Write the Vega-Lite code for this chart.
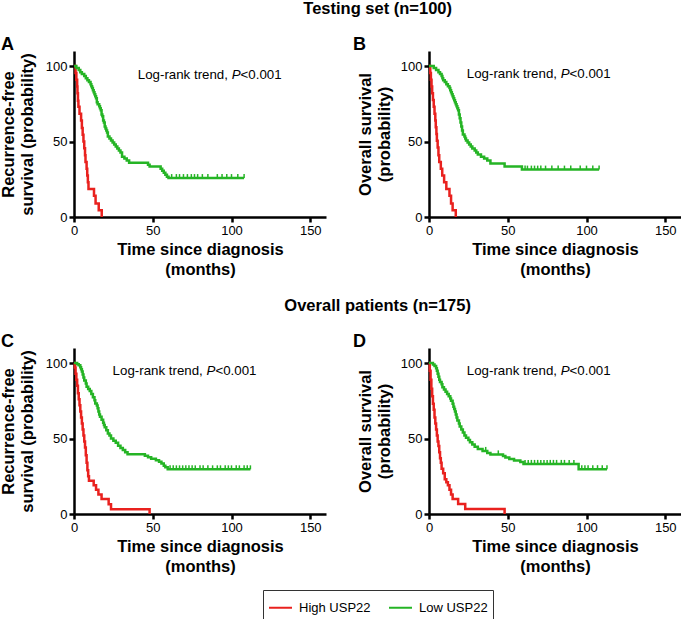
{
  "$schema": "https://vega.github.io/schema/vega-lite/v6.json",
  "padding": {"left": 0, "top": 0, "right": 0, "bottom": 0},
  "background": "white",
  "config": {
    "view": {"stroke": null},
    "font": "Liberation Sans",
    "axis": {"domainColor": "black", "domainWidth": 2.5, "tickColor": "black", "tickWidth": 2.5, "tickSize": 5, "labelFont": "Liberation Sans", "labelFontSize": 13, "labelColor": "black", "labelPadding": 2, "labelFlush": false, "titleFont": "Liberation Sans", "titleFontSize": 16.5, "titleFontWeight": "bold", "titleColor": "black", "titleLineHeight": 19, "grid": false},
    "title": {"font": "Liberation Sans", "color": "black", "fontWeight": "bold"}
  },
  "datasets": {
    "curves": [
      {"panel":"A","group":"High USP22","t":0,"s":100},{"panel":"A","group":"High USP22","t":1,"s":95.5},{"panel":"A","group":"High USP22","t":1.5,"s":91},{"panel":"A","group":"High USP22","t":2,"s":86.5},{"panel":"A","group":"High USP22","t":2.2,"s":82},{"panel":"A","group":"High USP22","t":2.5,"s":77},{"panel":"A","group":"High USP22","t":2.8,"s":73},{"panel":"A","group":"High USP22","t":3.5,"s":68.5},{"panel":"A","group":"High USP22","t":4.5,"s":64},{"panel":"A","group":"High USP22","t":5,"s":59},{"panel":"A","group":"High USP22","t":5.5,"s":54.5},{"panel":"A","group":"High USP22","t":6,"s":50},{"panel":"A","group":"High USP22","t":6.5,"s":45.5},{"panel":"A","group":"High USP22","t":7,"s":41},{"panel":"A","group":"High USP22","t":7.3,"s":36.5},{"panel":"A","group":"High USP22","t":8,"s":32},{"panel":"A","group":"High USP22","t":8.4,"s":27.5},{"panel":"A","group":"High USP22","t":8.8,"s":23},{"panel":"A","group":"High USP22","t":9.2,"s":18.5},{"panel":"A","group":"High USP22","t":12.7,"s":14},{"panel":"A","group":"High USP22","t":13.7,"s":9},{"panel":"A","group":"High USP22","t":15.7,"s":4.5},{"panel":"A","group":"High USP22","t":17.6,"s":0},
      {"panel":"A","group":"Low USP22","t":0,"s":100},{"panel":"A","group":"Low USP22","t":1.5,"s":98.7},{"panel":"A","group":"Low USP22","t":3,"s":97.4},{"panel":"A","group":"Low USP22","t":4,"s":96},{"panel":"A","group":"Low USP22","t":5,"s":94.7},{"panel":"A","group":"Low USP22","t":6.5,"s":93.4},{"panel":"A","group":"Low USP22","t":7.5,"s":92},{"panel":"A","group":"Low USP22","t":8.5,"s":90.7},{"panel":"A","group":"Low USP22","t":9.5,"s":89.4},{"panel":"A","group":"Low USP22","t":10.5,"s":88},{"panel":"A","group":"Low USP22","t":11,"s":86.7},{"panel":"A","group":"Low USP22","t":11.5,"s":85.4},{"panel":"A","group":"Low USP22","t":12,"s":84},{"panel":"A","group":"Low USP22","t":12.5,"s":82.7},{"panel":"A","group":"Low USP22","t":13,"s":81.4},{"panel":"A","group":"Low USP22","t":13.5,"s":80},{"panel":"A","group":"Low USP22","t":14,"s":78.7},{"panel":"A","group":"Low USP22","t":14.5,"s":76},{"panel":"A","group":"Low USP22","t":15,"s":74.7},{"panel":"A","group":"Low USP22","t":16,"s":73.4},{"panel":"A","group":"Low USP22","t":16.5,"s":72},{"panel":"A","group":"Low USP22","t":17,"s":70.7},{"panel":"A","group":"Low USP22","t":17.5,"s":68},{"panel":"A","group":"Low USP22","t":18,"s":66.7},{"panel":"A","group":"Low USP22","t":18.5,"s":64},{"panel":"A","group":"Low USP22","t":19,"s":62.7},{"panel":"A","group":"Low USP22","t":19.5,"s":60},{"panel":"A","group":"Low USP22","t":20,"s":58.7},{"panel":"A","group":"Low USP22","t":20.5,"s":57.4},{"panel":"A","group":"Low USP22","t":21,"s":56},{"panel":"A","group":"Low USP22","t":21.5,"s":53.4},{"panel":"A","group":"Low USP22","t":22.5,"s":52},{"panel":"A","group":"Low USP22","t":23.5,"s":50.7},{"panel":"A","group":"Low USP22","t":24.5,"s":49.4},{"panel":"A","group":"Low USP22","t":25.5,"s":48},{"panel":"A","group":"Low USP22","t":26.5,"s":46.7},{"panel":"A","group":"Low USP22","t":27.5,"s":45.4},{"panel":"A","group":"Low USP22","t":28.5,"s":44},{"panel":"A","group":"Low USP22","t":29.5,"s":42.7},{"panel":"A","group":"Low USP22","t":30.5,"s":40},{"panel":"A","group":"Low USP22","t":32,"s":38.7},{"panel":"A","group":"Low USP22","t":33.5,"s":37.4},{"panel":"A","group":"Low USP22","t":35,"s":36},{"panel":"A","group":"Low USP22","t":47,"s":34.7},{"panel":"A","group":"Low USP22","t":48,"s":33.4},{"panel":"A","group":"Low USP22","t":55,"s":32},{"panel":"A","group":"Low USP22","t":56,"s":30.7},{"panel":"A","group":"Low USP22","t":57,"s":29.4},{"panel":"A","group":"Low USP22","t":58,"s":28},{"panel":"A","group":"Low USP22","t":59,"s":26.7},{"panel":"A","group":"Low USP22","t":60,"s":25.8},{"panel":"A","group":"Low USP22","t":108,"s":25.8},
      {"panel":"B","group":"High USP22","t":0,"s":100},{"panel":"B","group":"High USP22","t":0.8,"s":95.5},{"panel":"B","group":"High USP22","t":1.2,"s":91},{"panel":"B","group":"High USP22","t":1.6,"s":86.5},{"panel":"B","group":"High USP22","t":2,"s":82},{"panel":"B","group":"High USP22","t":2.5,"s":77.5},{"panel":"B","group":"High USP22","t":3,"s":73},{"panel":"B","group":"High USP22","t":3.5,"s":68.5},{"panel":"B","group":"High USP22","t":4,"s":64},{"panel":"B","group":"High USP22","t":4.3,"s":59.5},{"panel":"B","group":"High USP22","t":4.7,"s":55},{"panel":"B","group":"High USP22","t":5,"s":50.5},{"panel":"B","group":"High USP22","t":5.5,"s":46},{"panel":"B","group":"High USP22","t":6,"s":41},{"panel":"B","group":"High USP22","t":6.5,"s":36.5},{"panel":"B","group":"High USP22","t":7.5,"s":32},{"panel":"B","group":"High USP22","t":8.4,"s":27.5},{"panel":"B","group":"High USP22","t":9.6,"s":23},{"panel":"B","group":"High USP22","t":11,"s":18.5},{"panel":"B","group":"High USP22","t":13,"s":14},{"panel":"B","group":"High USP22","t":14,"s":9},{"panel":"B","group":"High USP22","t":15,"s":4.5},{"panel":"B","group":"High USP22","t":17,"s":0},
      {"panel":"B","group":"Low USP22","t":0,"s":100},{"panel":"B","group":"Low USP22","t":3,"s":98.7},{"panel":"B","group":"Low USP22","t":4.5,"s":97.4},{"panel":"B","group":"Low USP22","t":6,"s":96},{"panel":"B","group":"Low USP22","t":7,"s":94.7},{"panel":"B","group":"Low USP22","t":8,"s":93.4},{"panel":"B","group":"Low USP22","t":8.5,"s":92},{"panel":"B","group":"Low USP22","t":9,"s":90.7},{"panel":"B","group":"Low USP22","t":10,"s":89.4},{"panel":"B","group":"Low USP22","t":11,"s":88},{"panel":"B","group":"Low USP22","t":12,"s":86.7},{"panel":"B","group":"Low USP22","t":13,"s":85.4},{"panel":"B","group":"Low USP22","t":13.5,"s":84},{"panel":"B","group":"Low USP22","t":14,"s":82.7},{"panel":"B","group":"Low USP22","t":14.5,"s":81.4},{"panel":"B","group":"Low USP22","t":15,"s":80},{"panel":"B","group":"Low USP22","t":15.5,"s":78.7},{"panel":"B","group":"Low USP22","t":16,"s":77.4},{"panel":"B","group":"Low USP22","t":16.5,"s":76},{"panel":"B","group":"Low USP22","t":17,"s":74.7},{"panel":"B","group":"Low USP22","t":17.5,"s":73.4},{"panel":"B","group":"Low USP22","t":18,"s":72},{"panel":"B","group":"Low USP22","t":18.5,"s":70.7},{"panel":"B","group":"Low USP22","t":19,"s":68},{"panel":"B","group":"Low USP22","t":19.5,"s":65.4},{"panel":"B","group":"Low USP22","t":20,"s":62.7},{"panel":"B","group":"Low USP22","t":20.5,"s":60},{"panel":"B","group":"Low USP22","t":21,"s":57.4},{"panel":"B","group":"Low USP22","t":21.5,"s":54.7},{"panel":"B","group":"Low USP22","t":22.5,"s":53.4},{"panel":"B","group":"Low USP22","t":23,"s":52},{"panel":"B","group":"Low USP22","t":23.5,"s":50.7},{"panel":"B","group":"Low USP22","t":24.5,"s":49.4},{"panel":"B","group":"Low USP22","t":25.5,"s":48},{"panel":"B","group":"Low USP22","t":26.5,"s":46.7},{"panel":"B","group":"Low USP22","t":27.5,"s":45.4},{"panel":"B","group":"Low USP22","t":29,"s":44},{"panel":"B","group":"Low USP22","t":30,"s":42.7},{"panel":"B","group":"Low USP22","t":31,"s":41.4},{"panel":"B","group":"Low USP22","t":33,"s":40},{"panel":"B","group":"Low USP22","t":35,"s":38.7},{"panel":"B","group":"Low USP22","t":37,"s":37.4},{"panel":"B","group":"Low USP22","t":39,"s":35.5},{"panel":"B","group":"Low USP22","t":48,"s":33.4},{"panel":"B","group":"Low USP22","t":59,"s":31.4},{"panel":"B","group":"Low USP22","t":108,"s":31.4},
      {"panel":"C","group":"High USP22","t":0,"s":100},{"panel":"C","group":"High USP22","t":0.5,"s":97},{"panel":"C","group":"High USP22","t":1,"s":93},{"panel":"C","group":"High USP22","t":1.5,"s":89},{"panel":"C","group":"High USP22","t":2,"s":85},{"panel":"C","group":"High USP22","t":2.5,"s":80},{"panel":"C","group":"High USP22","t":3,"s":76},{"panel":"C","group":"High USP22","t":3.5,"s":72},{"panel":"C","group":"High USP22","t":4,"s":68},{"panel":"C","group":"High USP22","t":4.5,"s":64},{"panel":"C","group":"High USP22","t":5,"s":60},{"panel":"C","group":"High USP22","t":5.5,"s":56},{"panel":"C","group":"High USP22","t":6,"s":52},{"panel":"C","group":"High USP22","t":6.5,"s":48},{"panel":"C","group":"High USP22","t":7,"s":44},{"panel":"C","group":"High USP22","t":7.5,"s":39},{"panel":"C","group":"High USP22","t":8,"s":34},{"panel":"C","group":"High USP22","t":8.5,"s":29},{"panel":"C","group":"High USP22","t":9,"s":25},{"panel":"C","group":"High USP22","t":9.5,"s":22},{"panel":"C","group":"High USP22","t":12.5,"s":19},{"panel":"C","group":"High USP22","t":14,"s":16},{"panel":"C","group":"High USP22","t":15.5,"s":13},{"panel":"C","group":"High USP22","t":17.5,"s":10},{"panel":"C","group":"High USP22","t":22,"s":6.5},{"panel":"C","group":"High USP22","t":23.5,"s":3.2},{"panel":"C","group":"High USP22","t":48,"s":0},
      {"panel":"C","group":"Low USP22","t":0,"s":100},{"panel":"C","group":"Low USP22","t":2,"s":99.3},{"panel":"C","group":"Low USP22","t":3,"s":98.6},{"panel":"C","group":"Low USP22","t":4,"s":97.3},{"panel":"C","group":"Low USP22","t":4.5,"s":95.9},{"panel":"C","group":"Low USP22","t":5,"s":94.5},{"panel":"C","group":"Low USP22","t":5.5,"s":92.5},{"panel":"C","group":"Low USP22","t":6,"s":90.4},{"panel":"C","group":"Low USP22","t":6.5,"s":88.4},{"panel":"C","group":"Low USP22","t":7.5,"s":86.4},{"panel":"C","group":"Low USP22","t":8,"s":84.3},{"panel":"C","group":"Low USP22","t":9,"s":82.9},{"panel":"C","group":"Low USP22","t":10,"s":81.5},{"panel":"C","group":"Low USP22","t":11,"s":79.5},{"panel":"C","group":"Low USP22","t":12,"s":77.4},{"panel":"C","group":"Low USP22","t":13,"s":75.3},{"panel":"C","group":"Low USP22","t":13.5,"s":73.3},{"panel":"C","group":"Low USP22","t":14.5,"s":71.9},{"panel":"C","group":"Low USP22","t":15,"s":70},{"panel":"C","group":"Low USP22","t":15.5,"s":68},{"panel":"C","group":"Low USP22","t":16,"s":66},{"panel":"C","group":"Low USP22","t":16.5,"s":64.5},{"panel":"C","group":"Low USP22","t":17.5,"s":62.5},{"panel":"C","group":"Low USP22","t":18.5,"s":60.5},{"panel":"C","group":"Low USP22","t":19,"s":59},{"panel":"C","group":"Low USP22","t":19.5,"s":57.5},{"panel":"C","group":"Low USP22","t":20.5,"s":55.5},{"panel":"C","group":"Low USP22","t":21.5,"s":53.4},{"panel":"C","group":"Low USP22","t":22.5,"s":52},{"panel":"C","group":"Low USP22","t":23.5,"s":50},{"panel":"C","group":"Low USP22","t":25,"s":48.6},{"panel":"C","group":"Low USP22","t":26.5,"s":47.2},{"panel":"C","group":"Low USP22","t":28,"s":45.2},{"panel":"C","group":"Low USP22","t":29.5,"s":43.8},{"panel":"C","group":"Low USP22","t":31,"s":42.4},{"panel":"C","group":"Low USP22","t":32.5,"s":41},{"panel":"C","group":"Low USP22","t":34,"s":39.6},{"panel":"C","group":"Low USP22","t":45,"s":38.6},{"panel":"C","group":"Low USP22","t":47,"s":37.6},{"panel":"C","group":"Low USP22","t":49,"s":36.6},{"panel":"C","group":"Low USP22","t":52,"s":35.6},{"panel":"C","group":"Low USP22","t":54,"s":34.6},{"panel":"C","group":"Low USP22","t":55.5,"s":33.5},{"panel":"C","group":"Low USP22","t":57,"s":32},{"panel":"C","group":"Low USP22","t":58,"s":31},{"panel":"C","group":"Low USP22","t":59.5,"s":29.6},{"panel":"C","group":"Low USP22","t":112,"s":29.6},
      {"panel":"D","group":"High USP22","t":0,"s":100},{"panel":"D","group":"High USP22","t":0.5,"s":95},{"panel":"D","group":"High USP22","t":1,"s":89},{"panel":"D","group":"High USP22","t":1.5,"s":83},{"panel":"D","group":"High USP22","t":2,"s":78},{"panel":"D","group":"High USP22","t":2.5,"s":73},{"panel":"D","group":"High USP22","t":3,"s":69},{"panel":"D","group":"High USP22","t":3.5,"s":64},{"panel":"D","group":"High USP22","t":4,"s":60},{"panel":"D","group":"High USP22","t":4.5,"s":56},{"panel":"D","group":"High USP22","t":5,"s":52},{"panel":"D","group":"High USP22","t":5.5,"s":48},{"panel":"D","group":"High USP22","t":6,"s":45},{"panel":"D","group":"High USP22","t":6.5,"s":41},{"panel":"D","group":"High USP22","t":7,"s":37},{"panel":"D","group":"High USP22","t":7.5,"s":34},{"panel":"D","group":"High USP22","t":8,"s":30},{"panel":"D","group":"High USP22","t":9,"s":27},{"panel":"D","group":"High USP22","t":10,"s":23},{"panel":"D","group":"High USP22","t":11,"s":21},{"panel":"D","group":"High USP22","t":12,"s":19},{"panel":"D","group":"High USP22","t":13,"s":16},{"panel":"D","group":"High USP22","t":14,"s":13},{"panel":"D","group":"High USP22","t":15,"s":10},{"panel":"D","group":"High USP22","t":18.5,"s":6.6},{"panel":"D","group":"High USP22","t":23,"s":3.3},{"panel":"D","group":"High USP22","t":48,"s":0},
      {"panel":"D","group":"Low USP22","t":0,"s":100},{"panel":"D","group":"Low USP22","t":2.5,"s":99},{"panel":"D","group":"Low USP22","t":3.5,"s":98},{"panel":"D","group":"Low USP22","t":4.5,"s":96.5},{"panel":"D","group":"Low USP22","t":5,"s":95},{"panel":"D","group":"Low USP22","t":5.5,"s":93},{"panel":"D","group":"Low USP22","t":6,"s":91},{"panel":"D","group":"Low USP22","t":6.5,"s":89},{"panel":"D","group":"Low USP22","t":7,"s":87.5},{"panel":"D","group":"Low USP22","t":8,"s":86},{"panel":"D","group":"Low USP22","t":8.5,"s":84},{"panel":"D","group":"Low USP22","t":9.5,"s":82.5},{"panel":"D","group":"Low USP22","t":10.5,"s":81},{"panel":"D","group":"Low USP22","t":11.5,"s":79.5},{"panel":"D","group":"Low USP22","t":12.5,"s":78},{"panel":"D","group":"Low USP22","t":13.5,"s":76.5},{"panel":"D","group":"Low USP22","t":14,"s":75},{"panel":"D","group":"Low USP22","t":15,"s":73},{"panel":"D","group":"Low USP22","t":15.5,"s":71},{"panel":"D","group":"Low USP22","t":16,"s":69.5},{"panel":"D","group":"Low USP22","t":16.5,"s":68},{"panel":"D","group":"Low USP22","t":17,"s":66},{"panel":"D","group":"Low USP22","t":17.5,"s":64},{"panel":"D","group":"Low USP22","t":18,"s":62},{"panel":"D","group":"Low USP22","t":19,"s":60},{"panel":"D","group":"Low USP22","t":19.5,"s":58},{"panel":"D","group":"Low USP22","t":20.5,"s":56},{"panel":"D","group":"Low USP22","t":21.5,"s":54},{"panel":"D","group":"Low USP22","t":22.5,"s":52},{"panel":"D","group":"Low USP22","t":23.5,"s":50.5},{"panel":"D","group":"Low USP22","t":25,"s":49},{"panel":"D","group":"Low USP22","t":26,"s":47.5},{"panel":"D","group":"Low USP22","t":27.5,"s":46},{"panel":"D","group":"Low USP22","t":29,"s":44.5},{"panel":"D","group":"Low USP22","t":31,"s":43},{"panel":"D","group":"Low USP22","t":34,"s":41.8},{"panel":"D","group":"Low USP22","t":37,"s":40.5},{"panel":"D","group":"Low USP22","t":39,"s":39.5},{"panel":"D","group":"Low USP22","t":47,"s":38.5},{"panel":"D","group":"Low USP22","t":48.5,"s":37.5},{"panel":"D","group":"Low USP22","t":51,"s":36.5},{"panel":"D","group":"Low USP22","t":54,"s":35.5},{"panel":"D","group":"Low USP22","t":58,"s":34.5},{"panel":"D","group":"Low USP22","t":60,"s":33.2},{"panel":"D","group":"Low USP22","t":95,"s":29.7},{"panel":"D","group":"Low USP22","t":113,"s":29.7}
    ],
    "censor": [
      {"panel":"A","t":62,"s":25.8},{"panel":"A","t":65,"s":25.8},{"panel":"A","t":67,"s":25.8},{"panel":"A","t":69.5,"s":25.8},{"panel":"A","t":72,"s":25.8},{"panel":"A","t":74.5,"s":25.8},{"panel":"A","t":76.5,"s":25.8},{"panel":"A","t":78.5,"s":25.8},{"panel":"A","t":81.5,"s":25.8},{"panel":"A","t":85,"s":25.8},{"panel":"A","t":91,"s":25.8},{"panel":"A","t":94,"s":25.8},{"panel":"A","t":97,"s":25.8},{"panel":"A","t":100,"s":25.8},{"panel":"A","t":104,"s":25.8},{"panel":"A","t":108,"s":25.8},
      {"panel":"B","t":61,"s":31.4},{"panel":"B","t":62.5,"s":31.4},{"panel":"B","t":65,"s":31.4},{"panel":"B","t":67,"s":31.4},{"panel":"B","t":69,"s":31.4},{"panel":"B","t":71,"s":31.4},{"panel":"B","t":74,"s":31.4},{"panel":"B","t":78,"s":31.4},{"panel":"B","t":82,"s":31.4},{"panel":"B","t":86,"s":31.4},{"panel":"B","t":90,"s":31.4},{"panel":"B","t":96,"s":31.4},{"panel":"B","t":100,"s":31.4},{"panel":"B","t":104,"s":31.4},{"panel":"B","t":108,"s":31.4},
      {"panel":"C","t":61,"s":29.6},{"panel":"C","t":63,"s":29.6},{"panel":"C","t":65,"s":29.6},{"panel":"C","t":67,"s":29.6},{"panel":"C","t":69,"s":29.6},{"panel":"C","t":71,"s":29.6},{"panel":"C","t":73,"s":29.6},{"panel":"C","t":75,"s":29.6},{"panel":"C","t":77,"s":29.6},{"panel":"C","t":80,"s":29.6},{"panel":"C","t":82,"s":29.6},{"panel":"C","t":85,"s":29.6},{"panel":"C","t":88,"s":29.6},{"panel":"C","t":91,"s":29.6},{"panel":"C","t":93,"s":29.6},{"panel":"C","t":96,"s":29.6},{"panel":"C","t":98,"s":29.6},{"panel":"C","t":100,"s":29.6},{"panel":"C","t":103,"s":29.6},{"panel":"C","t":105,"s":29.6},{"panel":"C","t":108,"s":29.6},{"panel":"C","t":110,"s":29.6},{"panel":"C","t":112,"s":29.6},
      {"panel":"D","t":36,"s":41.8},{"panel":"D","t":44,"s":39.5},{"panel":"D","t":61,"s":33.2},{"panel":"D","t":63,"s":33.2},{"panel":"D","t":65,"s":33.2},{"panel":"D","t":67,"s":33.2},{"panel":"D","t":69,"s":33.2},{"panel":"D","t":71,"s":33.2},{"panel":"D","t":73,"s":33.2},{"panel":"D","t":75,"s":33.2},{"panel":"D","t":77,"s":33.2},{"panel":"D","t":79,"s":33.2},{"panel":"D","t":81,"s":33.2},{"panel":"D","t":84,"s":33.2},{"panel":"D","t":86,"s":33.2},{"panel":"D","t":89,"s":33.2},{"panel":"D","t":92,"s":33.2},{"panel":"D","t":97,"s":29.7},{"panel":"D","t":99,"s":29.7},{"panel":"D","t":101,"s":29.7},{"panel":"D","t":104,"s":29.7},{"panel":"D","t":107,"s":29.7},{"panel":"D","t":110,"s":29.7},{"panel":"D","t":113,"s":29.7}
    ]
  },
  "vconcat": [
    {
      "title": {"text": "Testing set (n=100)", "anchor": "middle", "frame": "bounds", "fontSize": 16.5, "baseline": "alphabetic", "offset": 6, "dx": 37},
      "bounds": "flush",
      "spacing": 103,
      "hconcat": [
        {
          "width": 252, "height": 166,
          "title": {"text": "A", "anchor": "start", "frame": "group", "dx": -73, "offset": -17, "baseline": "alphabetic", "fontSize": 18},
          "layer": [
            {"data": {"name": "curves"}, "transform": [{"filter": "datum.panel === 'A'"}],
             "mark": {"type": "line", "interpolate": "step-after", "strokeWidth": 2.5},
             "encoding": {
               "x": {"field": "t", "type": "quantitative", "scale": {"domain": [0, 150]}, "axis": {"values": [0, 50, 100, 150], "title": ["Time since diagnosis", "(months)"], "titlePadding": 4, "titleLineHeight": 20}},
               "y": {"field": "s", "type": "quantitative", "scale": {"domain": [0, 110]}, "axis": {"values": [0, 50, 100], "title": ["Recurrence-free", "survival (probability)"], "titlePadding": 10}},
               "color": {"field": "group", "type": "nominal", "scale": {"domain": ["High USP22", "Low USP22"], "range": ["#e9211e", "#25b425"]},
                 "legend": {"orient": "none", "legendX": 189, "legendY": 539, "direction": "horizontal", "title": null, "strokeColor": "#333", "padding": 5, "symbolType": "stroke", "symbolSize": 529, "symbolStrokeWidth": 2, "labelFontSize": 13, "labelFont": "Liberation Sans", "labelColor": "black", "columnPadding": 14, "labelOffset": 6}}
             }},
            {"data": {"name": "censor"}, "transform": [{"filter": "datum.panel === 'A'"}],
             "mark": {"type": "point", "shape": "M0,-1L0,0", "filled": false, "stroke": "#25b425", "strokeWidth": 1.5, "size": 64, "opacity": 1},
             "encoding": {"x": {"field": "t", "type": "quantitative"}, "y": {"field": "s", "type": "quantitative"}}},
            {"data": {"values": [{}]},
             "mark": {"type": "text", "align": "left", "baseline": "middle", "fontSize": 13.3, "font": "Liberation Sans", "color": "black"},
             "encoding": {"x": {"datum": 40.5}, "y": {"datum": 94}, "text": {"value": "Log-rank trend, "}}},
            {"data": {"values": [{}]},
             "mark": {"type": "text", "align": "left", "baseline": "middle", "fontSize": 13.3, "font": "Liberation Sans", "fontStyle": "italic", "color": "black", "dx": 94},
             "encoding": {"x": {"datum": 40.5}, "y": {"datum": 94}, "text": {"value": "P"}}},
            {"data": {"values": [{}]},
             "mark": {"type": "text", "align": "left", "baseline": "middle", "fontSize": 13.3, "font": "Liberation Sans", "color": "black", "dx": 102.8},
             "encoding": {"x": {"datum": 40.5}, "y": {"datum": 94}, "text": {"value": "<0.001"}}}
          ]
        },
        {
          "width": 252, "height": 166,
          "title": {"text": "B", "anchor": "start", "frame": "group", "dx": -76, "offset": -17, "baseline": "alphabetic", "fontSize": 18},
          "layer": [
            {"data": {"name": "curves"}, "transform": [{"filter": "datum.panel === 'B'"}],
             "mark": {"type": "line", "interpolate": "step-after", "strokeWidth": 2.5},
             "encoding": {
               "x": {"field": "t", "type": "quantitative", "scale": {"domain": [0, 150]}, "axis": {"values": [0, 50, 100, 150], "title": ["Time since diagnosis", "(months)"], "titlePadding": 4, "titleLineHeight": 20}},
               "y": {"field": "s", "type": "quantitative", "scale": {"domain": [0, 110]}, "axis": {"values": [0, 50, 100], "title": ["Overall survival", "(probability)"], "titlePadding": 8}},
               "color": {"field": "group", "type": "nominal", "scale": {"domain": ["High USP22", "Low USP22"], "range": ["#e9211e", "#25b425"]}}
             }},
            {"data": {"name": "censor"}, "transform": [{"filter": "datum.panel === 'B'"}],
             "mark": {"type": "point", "shape": "M0,-1L0,0", "filled": false, "stroke": "#25b425", "strokeWidth": 1.5, "size": 64, "opacity": 1},
             "encoding": {"x": {"field": "t", "type": "quantitative"}, "y": {"field": "s", "type": "quantitative"}}},
            {"data": {"values": [{}]},
             "mark": {"type": "text", "align": "left", "baseline": "middle", "fontSize": 13.3, "font": "Liberation Sans", "color": "black"},
             "encoding": {"x": {"datum": 24}, "y": {"datum": 95}, "text": {"value": "Log-rank trend, "}}},
            {"data": {"values": [{}]},
             "mark": {"type": "text", "align": "left", "baseline": "middle", "fontSize": 13.3, "font": "Liberation Sans", "fontStyle": "italic", "color": "black", "dx": 94},
             "encoding": {"x": {"datum": 24}, "y": {"datum": 95}, "text": {"value": "P"}}},
            {"data": {"values": [{}]},
             "mark": {"type": "text", "align": "left", "baseline": "middle", "fontSize": 13.3, "font": "Liberation Sans", "color": "black", "dx": 102.8},
             "encoding": {"x": {"datum": 24}, "y": {"datum": 95}, "text": {"value": "<0.001"}}}
          ]
        }
      ]
    },
    {
      "title": {"text": "Overall patients (n=175)", "anchor": "middle", "frame": "bounds", "fontSize": 16.5, "baseline": "alphabetic", "offset": 6, "dx": 37},
      "bounds": "flush",
      "spacing": 103,
      "hconcat": [
        {
          "width": 252, "height": 166,
          "title": {"text": "C", "anchor": "start", "frame": "group", "dx": -73, "offset": -17, "baseline": "alphabetic", "fontSize": 18},
          "layer": [
            {"data": {"name": "curves"}, "transform": [{"filter": "datum.panel === 'C'"}],
             "mark": {"type": "line", "interpolate": "step-after", "strokeWidth": 2.5},
             "encoding": {
               "x": {"field": "t", "type": "quantitative", "scale": {"domain": [0, 150]}, "axis": {"values": [0, 50, 100, 150], "title": ["Time since diagnosis", "(months)"], "titlePadding": 4, "titleLineHeight": 20}},
               "y": {"field": "s", "type": "quantitative", "scale": {"domain": [0, 110]}, "axis": {"values": [0, 50, 100], "title": ["Recurrence-free", "survival (probability)"], "titlePadding": 10}},
               "color": {"field": "group", "type": "nominal", "scale": {"domain": ["High USP22", "Low USP22"], "range": ["#e9211e", "#25b425"]}}
             }},
            {"data": {"name": "censor"}, "transform": [{"filter": "datum.panel === 'C'"}],
             "mark": {"type": "point", "shape": "M0,-1L0,0", "filled": false, "stroke": "#25b425", "strokeWidth": 1.5, "size": 64, "opacity": 1},
             "encoding": {"x": {"field": "t", "type": "quantitative"}, "y": {"field": "s", "type": "quantitative"}}},
            {"data": {"values": [{}]},
             "mark": {"type": "text", "align": "left", "baseline": "middle", "fontSize": 13.3, "font": "Liberation Sans", "color": "black"},
             "encoding": {"x": {"datum": 24.5}, "y": {"datum": 94.7}, "text": {"value": "Log-rank trend, "}}},
            {"data": {"values": [{}]},
             "mark": {"type": "text", "align": "left", "baseline": "middle", "fontSize": 13.3, "font": "Liberation Sans", "fontStyle": "italic", "color": "black", "dx": 94},
             "encoding": {"x": {"datum": 24.5}, "y": {"datum": 94.7}, "text": {"value": "P"}}},
            {"data": {"values": [{}]},
             "mark": {"type": "text", "align": "left", "baseline": "middle", "fontSize": 13.3, "font": "Liberation Sans", "color": "black", "dx": 102.8},
             "encoding": {"x": {"datum": 24.5}, "y": {"datum": 94.7}, "text": {"value": "<0.001"}}}
          ]
        },
        {
          "width": 252, "height": 166,
          "title": {"text": "D", "anchor": "start", "frame": "group", "dx": -76, "offset": -17, "baseline": "alphabetic", "fontSize": 18},
          "layer": [
            {"data": {"name": "curves"}, "transform": [{"filter": "datum.panel === 'D'"}],
             "mark": {"type": "line", "interpolate": "step-after", "strokeWidth": 2.5},
             "encoding": {
               "x": {"field": "t", "type": "quantitative", "scale": {"domain": [0, 150]}, "axis": {"values": [0, 50, 100, 150], "title": ["Time since diagnosis", "(months)"], "titlePadding": 4, "titleLineHeight": 20}},
               "y": {"field": "s", "type": "quantitative", "scale": {"domain": [0, 110]}, "axis": {"values": [0, 50, 100], "title": ["Overall survival", "(probability)"], "titlePadding": 8}},
               "color": {"field": "group", "type": "nominal", "scale": {"domain": ["High USP22", "Low USP22"], "range": ["#e9211e", "#25b425"]}}
             }},
            {"data": {"name": "censor"}, "transform": [{"filter": "datum.panel === 'D'"}],
             "mark": {"type": "point", "shape": "M0,-1L0,0", "filled": false, "stroke": "#25b425", "strokeWidth": 1.5, "size": 64, "opacity": 1},
             "encoding": {"x": {"field": "t", "type": "quantitative"}, "y": {"field": "s", "type": "quantitative"}}},
            {"data": {"values": [{}]},
             "mark": {"type": "text", "align": "left", "baseline": "middle", "fontSize": 13.3, "font": "Liberation Sans", "color": "black"},
             "encoding": {"x": {"datum": 24}, "y": {"datum": 94.7}, "text": {"value": "Log-rank trend, "}}},
            {"data": {"values": [{}]},
             "mark": {"type": "text", "align": "left", "baseline": "middle", "fontSize": 13.3, "font": "Liberation Sans", "fontStyle": "italic", "color": "black", "dx": 94},
             "encoding": {"x": {"datum": 24}, "y": {"datum": 94.7}, "text": {"value": "P"}}},
            {"data": {"values": [{}]},
             "mark": {"type": "text", "align": "left", "baseline": "middle", "fontSize": 13.3, "font": "Liberation Sans", "color": "black", "dx": 102.8},
             "encoding": {"x": {"datum": 24}, "y": {"datum": 94.7}, "text": {"value": "<0.001"}}}
          ]
        }
      ]
    }
  ],
  "spacing": 19
}
